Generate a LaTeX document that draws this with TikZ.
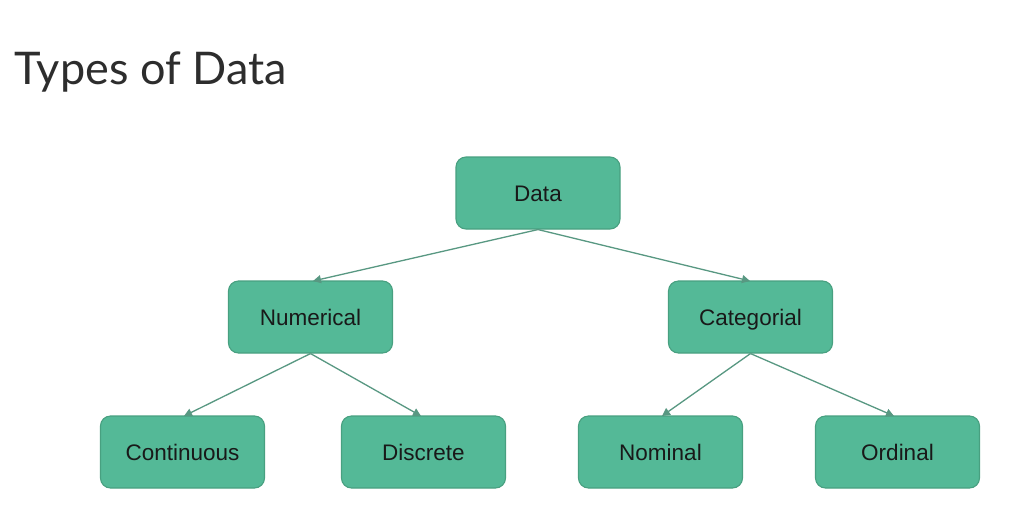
\documentclass[tikz,border=0pt]{standalone}
\usepackage{fontspec}
\setmainfont{Liberation Sans}
\newfontfamily\titlefont{Lato}
\usetikzlibrary{arrows.meta}
\definecolor{boxfill}{RGB}{84,185,151}
\definecolor{boxline}{RGB}{72,160,128}
\definecolor{linkcol}{RGB}{88,152,130}
\definecolor{titlecol}{RGB}{45,45,45}
\begin{document}
\begin{tikzpicture}[x=1pt,y=-1pt,
  box/.style={draw=boxline,fill=boxfill,line width=1.1pt,rounded corners=10pt,
    minimum width=164pt,minimum height=72pt,inner sep=0pt,text height=18pt,text depth=2pt,
    font=\fontsize{22.5}{26}\selectfont,text=black!90},
  link/.style={draw=linkcol,line width=1.3pt,-{Triangle[length=8pt,width=8pt]},shorten >=0pt}]
\useasboundingbox (0,0) rectangle (1023,507);
\fill[white] (0,0) rectangle (1023,507);
\node[anchor=base west,text=titlecol,font=\titlefont\fontsize{45}{54}\selectfont,inner sep=0pt] (title) at (14,84) {Types of Data};
\node[box] (data) at (538,193) {Data};
\node[box] (num) at (310.5,317) {Numerical};
\node[box] (cat) at (750.5,317) {Categorial};
\node[box] (cont) at (182.5,452) {Continuous};
\node[box] (disc) at (423.5,452) {Discrete};
\node[box] (nom) at (660.5,452) {Nominal};
\node[box] (ord) at (897.5,452) {Ordinal};
\coordinate (t1) at (313,281);
\coordinate (t2) at (750,281);
\coordinate (t3) at (184,416);
\coordinate (t4) at (421,416);
\coordinate (t5) at (662,416);
\coordinate (t6) at (894,416);
\draw[link] (data.south) -- (t1);
\draw[link] (data.south) -- (t2);
\draw[link] (num.south) -- (t3);
\draw[link] (num.south) -- (t4);
\draw[link] (cat.south) -- (t5);
\draw[link] (cat.south) -- (t6);
\end{tikzpicture}
\end{document}
